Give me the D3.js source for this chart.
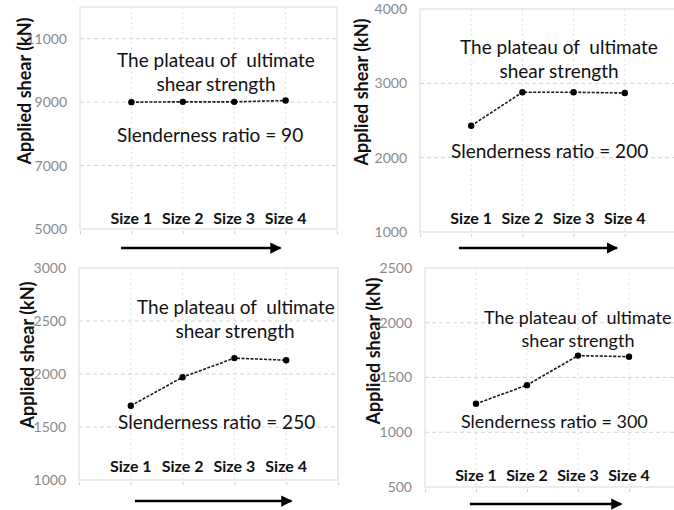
<!DOCTYPE html>
<html>
<head>
<meta charset="utf-8">
<script src="https://cdn.jsdelivr.net/npm/d3@7"></script>
<style>
  body { margin: 0; background: #fff; }
  svg { display: block; font-family: Lato, "Open Sans", sans-serif; }
  text { white-space: pre; }
</style>
</head>
<body>
<div id="chart"></div>
<script>
// data
const sizes = ["Size 1", "Size 2", "Size 3", "Size 4"]
const ratios = [90, 200, 250, 300]
const shear90 = [9000, 9010, 9010, 9050]
const shear200 = [2430, 2880, 2880, 2870]
const shear250 = [1700, 1970, 2150, 2130]
const shear300 = [1260, 1430, 1700, 1690]
const ticks90 = [5000, 7000, 9000, 11000]
const ticks200 = [1000, 2000, 3000, 4000]
const ticks250 = [1000, 1500, 2000, 2500, 3000]
const ticks300 = [500, 1000, 1500, 2000, 2500]
const plateauLines = ["The plateau of  ultimate", "shear strength"]

// panel layout (pixels)
const panels = [
  { vals: shear90, ticks: ticks90, ymax: 12000, ratio: ratios[0],
    x0: 80, x1: 337, y0: 7, y1: 229, sizeOff: 5, titleX: 25, titleY: 91, fs: 19,
    plateau: [37, 60, 136, 84], slender: [37, 135], arrow: [0.8, 3.9, 19] },
  { vals: shear200, ticks: ticks200, ymax: 4000, ratio: ratios[1],
    x0: 420, x1: 676, y0: 9, y1: 232, sizeOff: 8, titleX: 362, titleY: 92, fs: 19,
    plateau: [40, 45, 139, 69], slender: [31, 149], arrow: [0.76, 3.85, 16] },
  { vals: shear250, ticks: ticks250, ymax: 3000, ratio: ratios[2],
    x0: 79, x1: 338, y0: 268, y1: 480, sizeOff: 8, titleX: 28, titleY: 355, fs: 19,
    plateau: [58, 46, 156, 70], slender: [39, 161], arrow: [1.08, 4.1, 21] },
  { vals: shear300, ticks: ticks300, ymax: 2500, ratio: ratios[3],
    x0: 425, x1: 680, y0: 268, y1: 487, sizeOff: 6, titleX: 374, titleY: 351, fs: 18,
    plateau: [59, 56, 153, 79], slender: [36, 160], arrow: [0.88, 3.85, 17] }
]

const W = 674, H = 510

const svg = d3.select("#chart").append("svg")
    .attr("width", W)
    .attr("height", H)

svg.append("defs").append("marker")
    .attr("id", "head")
    .attr("viewBox", "0 0 10 10")
    .attr("refX", 9).attr("refY", 5)
    .attr("markerWidth", 4.5).attr("markerHeight", 4.5)
    .attr("orient", "auto")
    .append("path")
    .attr("d", "M0,0L10,5L0,10z")
    .attr("fill", "#000")

panels.forEach((p) => {
    let x = d3.scaleLinear().domain([0, 5]).range([p.x0, p.x1])
    let y = d3.scaleLinear().domain([p.ticks[0], p.ymax]).range([p.y1, p.y0])
    let g = svg.append("g")

    // plot area border
    g.append("rect")
        .attr("x", p.x0).attr("y", p.y0)
        .attr("width", p.x1 - p.x0).attr("height", p.y1 - p.y0)
        .attr("fill", "none")
        .attr("stroke", "#d9d9d9")

    // horizontal grid
    g.selectAll(".hgrid")
        .data(p.ticks.slice(1).filter(t => t < p.ymax))
        .enter().append("line")
        .attr("x1", p.x0).attr("x2", p.x1)
        .attr("y1", d => y(d)).attr("y2", d => y(d))
        .attr("stroke", "#d4d4d4")
        .attr("stroke-dasharray", "4,3")

    // vertical grid
    g.selectAll(".vgrid")
        .data([1, 2, 3, 4])
        .enter().append("line")
        .attr("x1", d => x(d)).attr("x2", d => x(d))
        .attr("y1", p.y0).attr("y2", p.y1)
        .attr("stroke", "#e0e0e0")
        .attr("stroke-dasharray", "2,3")

    // y axis
    let ya = g.append("g")
        .attr("transform", "translate(" + p.x0 + ",0)")
        .call(d3.axisLeft(y).tickValues(p.ticks).tickSize(0).tickPadding(13).tickFormat(d3.format("d")))
    ya.select(".domain").remove()
    ya.selectAll("text")
        .attr("fill", "#8a8a8a")
        .style("font-size", "14px")
        .style("font-family", "Lato, sans-serif")

    // small ticks under the axis
    let xa = g.append("g")
        .attr("transform", "translate(0," + (p.y1 + 2) + ")")
        .call(d3.axisBottom(x).ticks(5).tickSize(3).tickFormat(""))
    xa.select(".domain").remove()
    xa.selectAll("line").attr("stroke", "#cfcfcf")

    // axis title
    g.append("text")
        .attr("transform", "translate(" + p.titleX + "," + p.titleY + ")rotate(-90)")
        .attr("text-anchor", "middle")
        .attr("dy", "0.35em")
        .style("font-size", "18px")
        .style("font-weight", "bold")
        .attr("fill", "#111")
        .text("Applied shear (kN)")

    // dashed line + markers
    let line = d3.line()
        .x((d, i) => x(i + 1))
        .y(d => y(d))
    g.append("path")
        .datum(p.vals)
        .attr("d", line)
        .attr("fill", "none")
        .attr("stroke", "#1a1a1a")
        .attr("stroke-width", 1.6)
        .attr("stroke-dasharray", "3,1.5")
    g.selectAll(".pt")
        .data(p.vals)
        .enter().append("circle")
        .attr("cx", (d, i) => x(i + 1))
        .attr("cy", d => y(d))
        .attr("r", 3.2)
        .attr("fill", "#000")

    // size labels
    g.selectAll(".sz")
        .data(sizes)
        .enter().append("text")
        .attr("x", (d, i) => x(i + 1))
        .attr("y", p.y1 - p.sizeOff)
        .attr("text-anchor", "middle")
        .style("font-size", "16px")
        .style("font-weight", "bold")
        .attr("fill", "#111")
        .text(d => d)

    // annotations
    g.append("text")
        .attr("x", p.x0 + p.plateau[0])
        .attr("y", p.y0 + p.plateau[1])
        .style("font-size", p.fs + "px")
        .attr("fill", "#111")
        .text(plateauLines[0])
    g.append("text")
        .attr("x", p.x0 + p.plateau[2])
        .attr("y", p.y0 + p.plateau[3])
        .attr("text-anchor", "middle")
        .style("font-size", p.fs + "px")
        .attr("fill", "#111")
        .text(plateauLines[1])
    g.append("text")
        .attr("x", p.x0 + p.slender[0])
        .attr("y", p.y0 + p.slender[1])
        .style("font-size", p.fs + "px")
        .attr("fill", "#111")
        .text("Slenderness ratio = " + p.ratio)

    // arrow under the sizes
    g.append("line")
        .attr("x1", x(p.arrow[0])).attr("x2", x(p.arrow[1]))
        .attr("y1", p.y1 + p.arrow[2]).attr("y2", p.y1 + p.arrow[2])
        .attr("stroke", "#000")
        .attr("stroke-width", 2.5)
        .attr("marker-end", "url(#head)")
})
</script>
</body>
</html>
